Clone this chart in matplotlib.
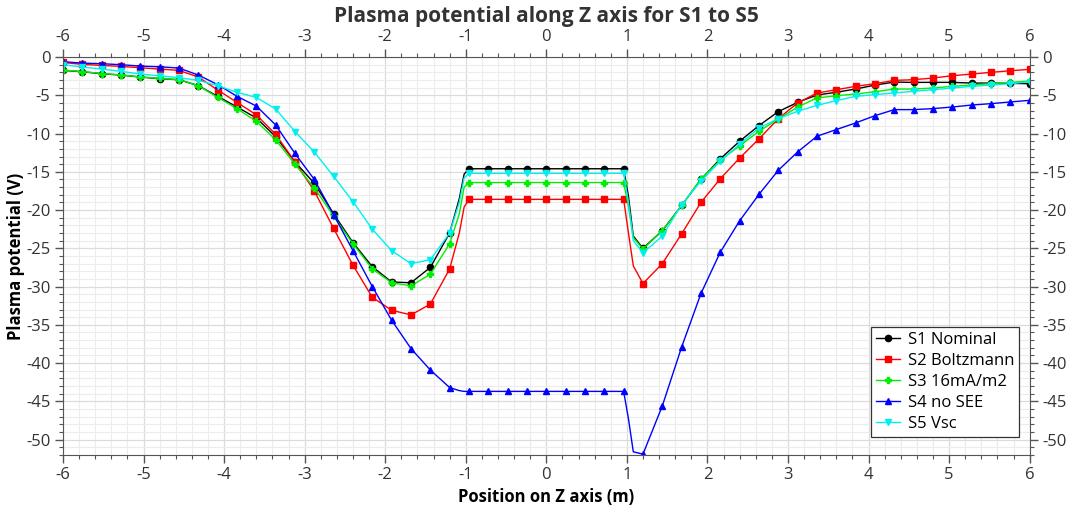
import numpy as np
import matplotlib
matplotlib.use('Agg')
import matplotlib.pyplot as plt
from matplotlib.ticker import MultipleLocator

plt.rcParams['font.family'] = ['Open Sans', 'DejaVu Sans']
plt.rcParams['axes.unicode_minus'] = False

# marker positions along Z (m)
z = [-6.00, -5.76, -5.52, -5.28, -5.04, -4.80, -4.56, -4.32, -4.08, -3.84,
     -3.60, -3.36, -3.12, -2.88, -2.64, -2.40, -2.16, -1.92, -1.68, -1.44,
     -1.20, -0.96, -0.72, -0.48, -0.24, 0.00, 0.24, 0.48, 0.72, 0.96,
     1.20, 1.44, 1.68, 1.92, 2.16, 2.40, 2.64, 2.88, 3.12, 3.36,
     3.60, 3.84, 4.08, 4.32, 4.56, 4.80, 5.04, 5.28, 5.52, 5.76, 6.00]
# extra line points around the wall edges (no markers)
z_edge = [-1.08, -1.02, 1.02, 1.08]

s1 = [-1.74, -1.92, -2.18, -2.35, -2.61, -2.83, -2.96, -3.74, -5.13, -6.52,
      -7.96, -10.4, -13.7, -16.5, -20.5, -24.25, -27.4, -29.4, -29.5, -27.5,
      -23.0, -14.6, -14.6, -14.6, -14.6, -14.6, -14.6, -14.6, -14.6, -14.6,
      -25.0, -22.7, -19.4, -16.0, -13.3, -11.0, -8.96, -7.13, -5.92, -4.96,
      -4.6, -4.18, -3.66, -3.27, -3.31, -3.31, -3.31, -3.4, -3.4, -3.44, -3.48]
s2 = [-0.7, -0.96, -1.09, -1.22, -1.4, -1.57, -1.74, -2.61, -4.3, -5.92,
      -7.55, -10.1, -13.7, -17.5, -22.4, -27.2, -31.4, -33.1, -33.7, -32.3,
      -27.7, -18.6, -18.6, -18.6, -18.6, -18.6, -18.6, -18.6, -18.6, -18.6,
      -29.6, -27.0, -23.1, -19.0, -15.9, -13.2, -10.7, -8.05, -6.0, -4.7,
      -4.27, -3.83, -3.48, -3.05, -2.96, -2.74, -2.44, -2.22, -2.0, -1.79, -1.61]
s3 = [-1.7, -1.9, -2.15, -2.35, -2.6, -2.8, -2.95, -3.74, -5.26, -6.74,
      -8.4, -10.8, -14.0, -17.1, -20.8, -24.4, -27.7, -29.5, -29.9, -28.4,
      -24.4, -16.4, -16.4, -16.4, -16.4, -16.4, -16.4, -16.4, -16.4, -16.4,
      -25.1, -22.7, -19.4, -15.9, -13.5, -11.6, -9.7, -8.1, -6.53, -5.35,
      -5.05, -4.83, -4.53, -4.18, -4.18, -4.05, -3.83, -3.66, -3.48, -3.31, -3.13]
s4 = [-0.61, -0.79, -0.87, -1.0, -1.18, -1.27, -1.44, -2.35, -3.6, -5.13,
      -6.4, -8.87, -12.6, -16.0, -20.6, -25.3, -30.0, -34.4, -38.1, -40.9,
      -43.2, -43.7, -43.7, -43.7, -43.7, -43.7, -43.7, -43.7, -43.7, -43.7,
      -51.9, -45.6, -37.9, -30.9, -25.5, -21.4, -17.95, -14.8, -12.4, -10.35,
      -9.48, -8.61, -7.66, -6.87, -6.87, -6.74, -6.53, -6.27, -6.09, -5.87, -5.66]
s5 = [-1.0, -1.3, -1.57, -1.87, -2.22, -2.44, -2.7, -3.05, -3.74, -4.61,
      -5.27, -6.79, -9.74, -12.4, -15.6, -18.9, -22.5, -25.3, -27.0, -26.5,
      -23.0, -15.2, -15.2, -15.2, -15.2, -15.2, -15.2, -15.2, -15.2, -15.2,
      -25.6, -23.4, -19.3, -16.2, -13.6, -11.4, -9.26, -8.05, -7.09, -6.31,
      -5.7, -5.13, -4.92, -4.7, -4.48, -4.27, -4.05, -3.83, -3.66, -3.48, -3.22]

s1_edge = [-18.5, -15.3, -18.2, -23.4]
s2_edge = [-23.0, -19.6, -23.0, -27.3]
s3_edge = [-20.5, -17.0, -19.5, -23.6]
s4_edge = [-43.6, -43.7, -47.3, -51.6]
s5_edge = [-19.0, -15.8, -19.0, -24.0]

labels = ['S1 Nominal', 'S2 Boltzmann', 'S3 16mA/m2', 'S4 no SEE', 'S5 Vsc']
series = [(s1, s1_edge), (s2, s2_edge), (s3, s3_edge), (s4, s4_edge), (s5, s5_edge)]
colors = ['#000000', '#ff0000', '#00ee00', '#0000ff', '#00f0f0']
markers = ['o', 's', 'P', '^', 'v']
msizes = [4.5, 5, 4.2, 4.2, 4.2]

fig = plt.figure(figsize=(10.67, 5.14), dpi=100)
ax = fig.add_axes([0.059, 0.115, 0.906, 0.774])

for (vals, edge), lab, c, m, ms in zip(series, labels, colors, markers, msizes):
    zz = np.array(z + z_edge)
    vv = np.array(vals + edge)
    is_marker = np.array([True] * len(z) + [False] * len(z_edge))
    order = np.argsort(zz, kind='stable')
    ax.plot(zz[order], vv[order], color=c, lw=1.0, marker=m, ms=ms,
            markevery=list(is_marker[order]), label=lab)

ax.set_xlim(-6, 6)
ax.set_ylim(-52, 0)
ax.xaxis.set_major_locator(MultipleLocator(1))
ax.xaxis.set_minor_locator(MultipleLocator(0.2))
ax.yaxis.set_major_locator(MultipleLocator(5))
ax.yaxis.set_minor_locator(MultipleLocator(1))
ax.grid(True, which='major', color='#dcdcdc', lw=0.9)
ax.grid(True, which='minor', color='#ececec', lw=0.8)
ax.set_axisbelow(True)

ax.tick_params(which='both', direction='out', top=True, right=True,
               labeltop=True, labelright=True, colors='#555555',
               labelcolor='#333333', labelsize=12)
ax.tick_params(which='major', length=6, width=1, pad=3)
ax.tick_params(which='minor', length=3, width=0.8)
for sp in ax.spines.values():
    sp.set_color('#555555')

ax.set_title('Plasma potential along Z axis for S1 to S5', fontsize=15,
             fontweight='bold', color='#333333', pad=25)
ax.set_xlabel('Position on Z axis (m)', fontsize=12, fontweight='bold', labelpad=3)
ax.set_ylabel('Plasma potential (V)', fontsize=12, fontweight='bold', labelpad=1)

leg = ax.legend(loc='lower right', bbox_to_anchor=(0.998, 0.025), fontsize=12,
                fancybox=False, framealpha=1, edgecolor='#333333',
                handlelength=1.4, handletextpad=0.5, borderpad=0.3,
                labelspacing=0.3)
leg.get_frame().set_linewidth(0.9)

fig.savefig('out.png', dpi=100)
